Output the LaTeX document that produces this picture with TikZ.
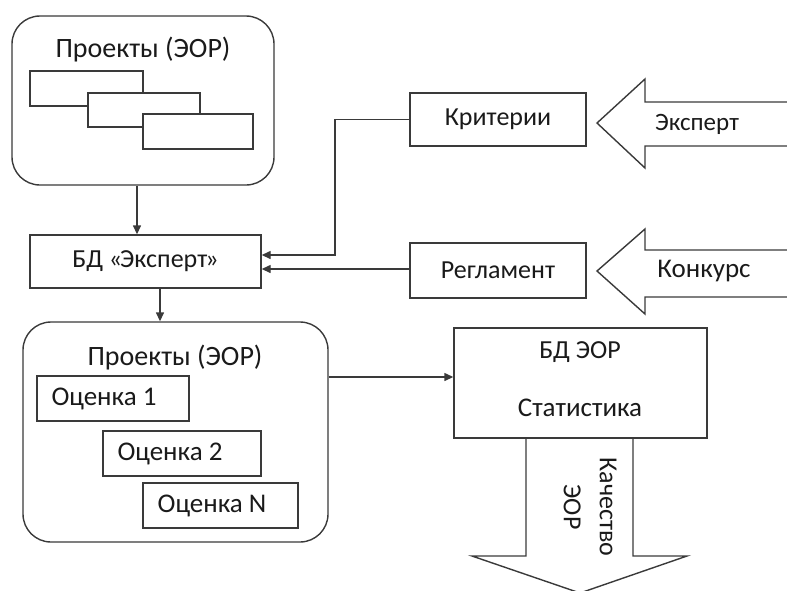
\documentclass[tikz,border=0pt]{standalone}
\usepackage{fontspec}
\setmainfont{Carlito}
\usetikzlibrary{arrows.meta,calc}
\definecolor{ln}{HTML}{3A3A3A}
\definecolor{tx}{HTML}{1A1A1A}
\begin{document}
\begin{tikzpicture}[x=1pt,y=-1pt,
  every node/.style={text=tx,font=\fontsize{26}{36}\selectfont},
  big/.style={font=\fontsize{28}{34}\selectfont},
  box/.style={draw=ln,line width=1.4pt,fill=white,rectangle,inner sep=0pt},
  rbox/.style={box,rounded corners=28pt},
  lbl/.style={inner sep=0pt},
  con/.style={draw=ln,line width=1.4pt,-{Triangle[length=9pt,width=8pt]}},
  bigarrow/.style={draw=ln,line width=1.4pt,line join=miter}
]
\useasboundingbox (0,0) rectangle (787,590);
\clip (0,0) rectangle (787,590);

% top project box
\node[rbox,minimum width=262pt,minimum height=169pt] (proj1) at (143,100.5) {};
\node[lbl,big] (proj1t) at (143,50) {Проекты (ЭОР)};
\node[box,minimum width=113pt,minimum height=35pt] (r1) at (86.5,88.5) {};
\node[box,minimum width=112pt,minimum height=34pt] (r2) at (144,110) {};
\node[box,minimum width=110pt,minimum height=35pt] (r3) at (198,131.5) {};

% BD expert
\node[box,minimum width=231pt,minimum height=53pt,font=\fontsize{26}{30}\selectfont] (bd) at (145.5,261.5) {БД «\kern-2pt Эксперт\kern-2pt»};

% criteria and regulations
\node[box,minimum width=176pt,minimum height=53pt] (krit) at (498,119.5) {Критерии};
\node[box,minimum width=176pt,minimum height=55pt] (regl) at (498,270.5) {Регламент};

% lower project box
\node[rbox,minimum width=305pt,minimum height=220pt] (proj2) at (175.5,432) {};
\node[lbl,big] (proj2t) at (175,358) {Проекты (ЭОР)};
\node[box,minimum width=152pt,minimum height=45pt] (o1) at (113,398.5) {};
\node[lbl,font=\fontsize{27}{32}\selectfont] (o1t) at (104,399) {Оценка 1};
\node[box,minimum width=158pt,minimum height=45pt] (o2) at (182,453.5) {};
\node[lbl,font=\fontsize{27}{32}\selectfont] (o2t) at (170,454) {Оценка 2};
\node[box,minimum width=155pt,minimum height=45pt] (oN) at (220.5,505.5) {};
\node[lbl,font=\fontsize{27}{32}\selectfont] (oNt) at (212,506) {Оценка N};

% BD EOR
\node[box,minimum width=253pt,minimum height=110pt] (stat) at (580.5,383) {};
\node[lbl,font=\fontsize{26}{30}\selectfont] (statt1) at (580,352) {БД ЭОР};
\node[lbl,font=\fontsize{27}{32}\selectfont] (statt2) at (580,408) {Статистика};

% big arrows
\draw[bigarrow] (787,102) -- (645,102) -- (645,79) -- (597,123) -- (645,168) -- (645,146) -- (787,146);
\node[lbl,font=\fontsize{25}{30}\selectfont] (expt) at (697,124) {Эксперт};
\draw[bigarrow] (787,250) -- (645,250) -- (645,229) -- (597,271) -- (645,314) -- (645,297) -- (787,297);
\node[lbl,font=\fontsize{27}{32}\selectfont] (konk) at (704,271) {Конкурс};
\draw[bigarrow] (526,438) -- (526,556) -- (472,556) -- (580,593) -- (687,556) -- (633,556) -- (633,438);
\node[lbl,rotate=-90,align=center] (kach) at (590,507) {Качество\\ЭОР};

% connectors
\draw[con] ([xshift=-6pt]proj1.south) -- ([xshift=-6pt]proj1.south |- bd.north);
\draw[con] ([xshift=14.5pt]bd.south) -- ([xshift=14.5pt]bd.south |- proj2.north);
\coordinate (kc) at ([yshift=6.5pt]bd.east);
\draw[con] (krit.west) -| (kc -| 335,0) -- (kc);
\coordinate (rc) at ([yshift=-7.5pt]bd.east);
\draw[con] (regl.west |- rc) -- (rc);
\coordinate (sc) at ([yshift=6pt]stat.west);
\draw[con] (proj2.east |- sc) -- (sc);
\end{tikzpicture}
\end{document}
